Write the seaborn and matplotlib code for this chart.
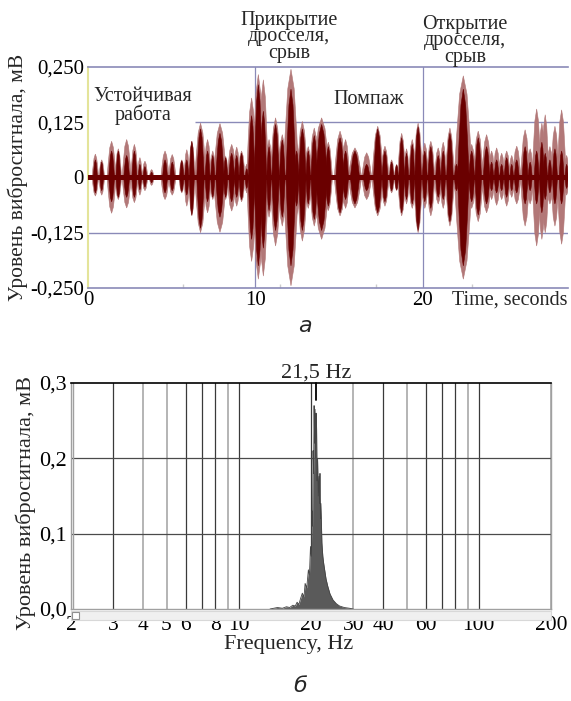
import numpy as np
import seaborn as sns
import matplotlib.pyplot as plt
from matplotlib.patches import Rectangle

# --- вибросигнал: всплески (центр, с; верх/низ огибающей, мВ; ширина, с) ---
burst_t = [0.44, 0.82, 1.41, 1.81, 2.31, 2.77, 3.10, 3.40, 3.80, 4.60, 5.03, 5.60, 5.90, 6.20,
           6.72, 7.14, 7.45, 7.88, 8.22, 8.58, 8.88, 9.17, 9.48, 9.77, 10.17, 10.47, 10.81, 11.20,
           11.60, 12.12, 12.46, 12.80, 13.15, 13.51, 13.95, 14.35, 15.05, 15.38, 15.94, 16.64,
           17.30, 17.73, 18.13, 18.43, 18.73, 19.02, 19.36, 19.71, 20.11, 20.47, 20.91, 21.21,
           21.61, 22.00, 22.41, 22.91, 23.30, 23.80, 24.10, 24.40, 24.70, 25.00, 25.30, 25.60,
           26.10, 26.40, 26.79, 27.10, 27.30, 27.58, 27.88, 28.28, 28.58]
outer_hi = [0.053, 0.040, 0.082, 0.065, 0.086, 0.075, 0.045, 0.037, 0.018, 0.060, 0.052, 0.040,
            0.063, 0.082, 0.123, 0.086, 0.060, 0.122, 0.048, 0.075, 0.069, 0.060, 0.030, 0.180,
            0.233, 0.221, 0.086, 0.135, 0.097, 0.245, 0.078, 0.127, 0.070, 0.112, 0.135, 0.080,
            0.105, 0.086, 0.067, 0.056, 0.116, 0.071, 0.040, 0.030, 0.100, 0.065, 0.086, 0.123,
            0.078, 0.082, 0.067, 0.080, 0.112, 0.040, 0.230, 0.075, 0.105, 0.097, 0.060, 0.067,
            0.055, 0.060, 0.050, 0.071, 0.108, 0.065, 0.155, 0.123, 0.142, 0.070, 0.116, 0.153,
            0.050]
outer_lo = [-0.042, -0.040, -0.081, -0.050, -0.069, -0.057, -0.040, -0.030, -0.018, -0.050,
            -0.040, -0.035, -0.065, -0.087, -0.125, -0.080, -0.050, -0.124, -0.050, -0.076,
            -0.065, -0.055, -0.035, -0.190, -0.230, -0.223, -0.090, -0.155, -0.110, -0.245,
            -0.085, -0.144, -0.070, -0.110, -0.140, -0.075, -0.087, -0.070, -0.069, -0.050,
            -0.087, -0.065, -0.035, -0.030, -0.087, -0.060, -0.070, -0.125, -0.070, -0.087,
            -0.060, -0.070, -0.110, -0.040, -0.230, -0.070, -0.100, -0.080, -0.050, -0.063,
            -0.050, -0.065, -0.045, -0.060, -0.110, -0.060, -0.155, -0.140, -0.125, -0.060,
            -0.110, -0.151, -0.040]
outer_w = [0.40, 0.35, 0.55, 0.40, 0.55, 0.45, 0.30, 0.35, 0.30, 0.50, 0.45, 0.35, 0.35, 0.40,
           0.70, 0.45, 0.35, 0.80, 0.35, 0.55, 0.40, 0.45, 0.30, 0.60, 0.70, 0.60, 0.40, 0.65,
           0.50, 0.95, 0.40, 0.65, 0.40, 0.60, 1.00, 0.50, 0.70, 0.50, 0.80, 0.60, 0.70, 0.50,
           0.35, 0.30, 0.50, 0.35, 0.45, 0.55, 0.45, 0.50, 0.45, 0.40, 0.55, 0.35, 1.10, 0.50,
           0.60, 0.60, 0.40, 0.45, 0.40, 0.45, 0.35, 0.50, 0.55, 0.40, 0.55, 0.45, 0.45, 0.40,
           0.50, 0.55, 0.30]
inner_hi = [0.040, 0.035, 0.060, 0.060, 0.050, 0.060, 0.030, 0.025, 0.012, 0.040, 0.035, 0.038,
            0.040, 0.082, 0.110, 0.060, 0.050, 0.100, 0.045, 0.055, 0.050, 0.055, 0.020, 0.140,
            0.210, 0.150, 0.070, 0.120, 0.085, 0.200, 0.060, 0.110, 0.060, 0.095, 0.120, 0.070,
            0.090, 0.060, 0.060, 0.030, 0.110, 0.060, 0.035, 0.028, 0.090, 0.055, 0.075, 0.115,
            0.060, 0.070, 0.050, 0.060, 0.100, 0.030, 0.200, 0.060, 0.090, 0.070, 0.035, 0.040,
            0.030, 0.045, 0.030, 0.040, 0.070, 0.035, 0.060, 0.080, 0.055, 0.040, 0.065, 0.060,
            0.030]
inner_lo = [-0.035, -0.030, -0.055, -0.045, -0.045, -0.045, -0.028, -0.022, -0.012, -0.035,
            -0.030, -0.032, -0.040, -0.085, -0.115, -0.055, -0.045, -0.090, -0.045, -0.055,
            -0.045, -0.050, -0.025, -0.140, -0.200, -0.160, -0.075, -0.120, -0.090, -0.200,
            -0.065, -0.120, -0.060, -0.095, -0.120, -0.065, -0.080, -0.050, -0.060, -0.030,
            -0.080, -0.055, -0.030, -0.028, -0.080, -0.050, -0.060, -0.120, -0.055, -0.070,
            -0.045, -0.050, -0.100, -0.030, -0.200, -0.055, -0.085, -0.060, -0.030, -0.035,
            -0.030, -0.045, -0.030, -0.035, -0.060, -0.030, -0.060, -0.080, -0.050, -0.035,
            -0.060, -0.060, -0.025]
inner_w = [0.25, 0.22, 0.35, 0.28, 0.35, 0.30, 0.20, 0.22, 0.20, 0.30, 0.28, 0.25, 0.25, 0.30,
           0.45, 0.30, 0.25, 0.50, 0.25, 0.35, 0.28, 0.30, 0.20, 0.40, 0.50, 0.40, 0.28, 0.45,
           0.35, 0.60, 0.28, 0.45, 0.28, 0.40, 0.70, 0.35, 0.50, 0.35, 0.55, 0.40, 0.50, 0.35,
           0.25, 0.22, 0.35, 0.25, 0.30, 0.40, 0.30, 0.35, 0.30, 0.28, 0.40, 0.25, 0.70, 0.35,
           0.40, 0.40, 0.25, 0.30, 0.25, 0.30, 0.22, 0.30, 0.35, 0.25, 0.30, 0.30, 0.28, 0.25,
           0.30, 0.30, 0.20]
base_amp = 0.006   # постоянный фон вибрации, мВ
t_end = 28.66

y_ticks_top = [-0.25, -0.125, 0, 0.125, 0.25]
y_labels_top = ['-0,250', '-0,125', '0', '0,125', '0,250']

# --- спектр ---
freq = [13.5, 14.5, 15.2, 15.8, 16.3, 16.8, 17.2, 17.5, 17.8, 18.1, 18.4, 18.7, 18.9, 19.2, 19.5,
        19.7, 19.9, 20.05, 20.2, 20.3, 20.4, 20.5, 20.6, 20.7, 20.8, 20.9, 21.0, 21.1, 21.2, 21.3,
        21.45, 21.6, 21.7, 21.8, 21.9, 22.0, 22.2, 22.4, 22.6, 22.8, 23.1, 23.5, 24.0, 24.7, 25.5,
        26.3, 27.5, 28.9, 30.0]
amp = [0.0, 0.002, 0.001, 0.003, 0.002, 0.005, 0.004, 0.009, 0.006, 0.014, 0.021, 0.016, 0.034,
       0.028, 0.052, 0.045, 0.083, 0.070, 0.130, 0.110, 0.210, 0.180, 0.270, 0.220, 0.265, 0.200,
       0.260, 0.240, 0.170, 0.200, 0.150, 0.176, 0.140, 0.180, 0.120, 0.140, 0.088, 0.070, 0.060,
       0.052, 0.040, 0.030, 0.020, 0.012, 0.007, 0.004, 0.002, 0.001, 0.0]
peak_freq = 21.0
freq_ticks = [2, 3, 4, 5, 6, 8, 10, 20, 30, 40, 60, 100, 200]
grid_dark = [3, 6, 7, 8, 10, 20, 40, 60, 70, 80, 100]
grid_light = [4, 5, 9, 30, 50, 90, 200]

sns.set_theme(style='white')
plt.rcParams['font.family'] = ['Liberation Serif', 'DejaVu Serif']

W, H = 571, 701
fig = plt.figure(figsize=(W / 100, H / 100), dpi=100)


def px(x, y):
    return x / W, 1 - y / H


# форма одного всплеска (веретено)
leaf_off = np.array([-0.5, -0.36, -0.2, 0.0, 0.2, 0.36, 0.5])
leaf_h = np.array([0.0, 0.42, 0.82, 1.0, 0.82, 0.42, 0.0])


def draw_bursts(ax, centers, hi, lo, widths, color, z):
    for c, a, b, w in zip(centers, hi, lo, widths):
        xs = c + leaf_off * w
        ax.fill(np.r_[xs, xs[::-1]], np.r_[a * leaf_h, (b * leaf_h)[::-1]],
                color=color, lw=0.4, zorder=z)


# ================= верхний график =================
ax1 = fig.add_axes([88 / W, 1 - 288 / H, 480 / W, 221 / H])

light, dark = '#b27878', '#6a0000'
draw_bursts(ax1, burst_t, outer_hi, outer_lo, outer_w, light, 2)
draw_bursts(ax1, burst_t, inner_hi, inner_lo, inner_w, dark, 3)
ax1.fill_between([0, t_end], [-base_amp, -base_amp], [base_amp, base_amp], color=dark,
                 lw=0, zorder=3)
sns.lineplot(x=[0, t_end], y=[0, 0], ax=ax1, color=dark, lw=0.8, zorder=3)

grid_c = '#8a8ab8'
ax1.set_xlim(0, t_end)
ax1.set_ylim(-0.25, 0.25)
ax1.axhline(-0.125, color=grid_c, lw=1, zorder=1)
ax1.hlines(0.125, 6.39, t_end, color=grid_c, lw=1, zorder=1)
for x in [10, 20]:
    ax1.axvline(x, color=grid_c, lw=0.9, zorder=1)
for s in ['top', 'bottom']:
    ax1.spines[s].set_color(grid_c)
    ax1.spines[s].set_linewidth(1.2)
ax1.spines['left'].set_color('#e4e49a')
ax1.spines['left'].set_linewidth(1.5)
ax1.spines['right'].set_visible(False)

ax1.set_xticks([0, 10, 20])
ax1.set_xticklabels(['0', '10', '20'])
ax1.set_xticks([5.7, 11.45, 17.2, 22.9], minor=True)
ax1.set_yticks(y_ticks_top)
ax1.set_yticklabels(y_labels_top)
ax1.tick_params(axis='x', which='major', length=0, pad=2, labelsize=15, colors='black')
ax1.tick_params(axis='y', which='major', length=0, pad=3, labelsize=15, colors='black')
ax1.tick_params(axis='x', which='minor', direction='in', length=3, color='#cccccc', bottom=True)
ax1.set_ylabel('Уровень вибросигнала, мВ', fontsize=15.5)
ax1.yaxis.set_label_coords(-(88 - 28) / 480, 0.5)

fig.text(*px(143, 106), 'Устойчивая\nработа', ha='center', va='center', fontsize=14.5,
         linespacing=0.95)
fig.text(*px(369, 100), 'Помпаж', ha='center', va='center', fontsize=14.5)
fig.text(*px(289, 37), 'Прикрытие\nдросселя,\nсрыв', ha='center', va='center', fontsize=14.5,
         linespacing=0.85)
fig.text(*px(465, 41), 'Открытие\nдросселя,\nсрыв', ha='center', va='center', fontsize=14.5,
         linespacing=0.85)
fig.text(*px(510, 300), 'Time, seconds', ha='center', va='center', fontsize=14.5)
fig.text(*px(305, 326), 'а', ha='center', va='center', fontsize=16, style='italic',
         family='DejaVu Sans')

# ================= нижний график =================
ax2 = fig.add_axes([71 / W, 1 - 609 / H, 480 / W, 226 / H])
ax2.set_xscale('log')
ax2.set_xlim(2, 200)
ax2.set_ylim(0, 0.3)

for x in grid_dark:
    ax2.axvline(x, color='#3a3a3a', lw=0.9, zorder=1)
for x in grid_light:
    ax2.axvline(x, color='#a8a8a8', lw=1.2, zorder=1)
for y in [0.1, 0.2]:
    ax2.axhline(y, color='#4a4a4a', lw=0.9, zorder=1)

ax2.fill_between(freq, 0, amp, color='#5a5a5a', lw=0, zorder=2)
sns.lineplot(x=freq, y=amp, ax=ax2, color='#444444', lw=0.6, zorder=3)
ax2.plot([peak_freq, peak_freq], [0.3, 0.277], color='black', lw=1.3, zorder=4, clip_on=False)
ax2.text(peak_freq, 0.301, '21,5 Hz', ha='center', va='bottom', fontsize=16)

ax2.spines['top'].set_color('black')
ax2.spines['top'].set_linewidth(1.2)
for s in ['left', 'right', 'bottom']:
    ax2.spines[s].set_color('#a0a0a0')
    ax2.spines[s].set_linewidth(1.0)
ax2.axvline(2.04, color='#a0a0a0', lw=1.0, zorder=1)

ax2.xaxis.set_major_locator(plt.FixedLocator(freq_ticks))
ax2.xaxis.set_minor_locator(plt.NullLocator())
ax2.set_xticklabels([str(f) for f in freq_ticks])
ax2.set_yticks([0, 0.1, 0.2, 0.3])
ax2.set_yticklabels(['0,0', '0,1', '0,2', '0,3'])
ax2.tick_params(axis='x', length=0, pad=5, labelsize=15.5, colors='black')
ax2.tick_params(axis='y', length=0, pad=3, labelsize=16, colors='black')
ax2.set_ylabel('Уровень вибросигнала, мВ', fontsize=16)
ax2.yaxis.set_label_coords(-(71 - 36) / 480, 0.47)

# полоса прокрутки под осью
ax2.add_patch(Rectangle((0, -0.05), 1, 0.04, transform=ax2.transAxes, clip_on=False,
                        facecolor='#f0f0f0', edgecolor='#d8d8d8', lw=0.8))
ax2.add_patch(Rectangle((0.003, -0.045), 0.014, 0.03, transform=ax2.transAxes, clip_on=False,
                        facecolor='white', edgecolor='#909090', lw=0.8))

fig.text(*px(289, 644), 'Frequency, Hz', ha='center', va='center', fontsize=16)
fig.text(*px(300, 686), 'б', ha='center', va='center', fontsize=16, style='italic',
         family='DejaVu Sans')

plt.savefig('out.png', dpi=100)
